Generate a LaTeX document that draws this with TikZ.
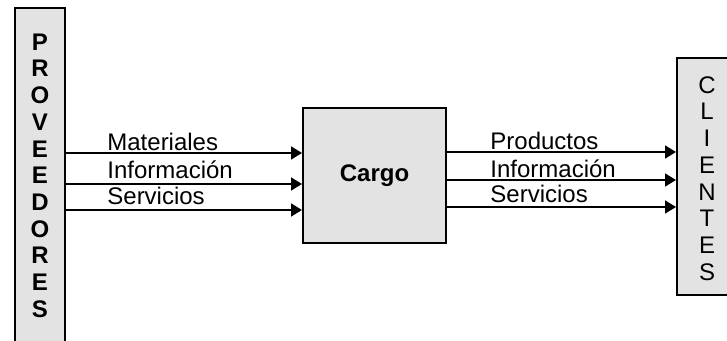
\documentclass[tikz,border=0pt]{standalone}
\usepackage{fontspec}
\setmainfont{Liberation Sans}
\usetikzlibrary{arrows.meta}

\begin{document}
\begin{tikzpicture}[
    x=0.5pt, y=-0.5pt,
    >={Triangle[length=5.5pt, width=6.5pt]},
    every node/.style={font=\fontsize{12}{14}\selectfont, inner sep=0pt},
    caja/.style={draw, line width=1pt, fill=gray!22},
    letraP/.style={font=\fontsize{12}{14}\selectfont\bfseries},
    letraC/.style={font=\fontsize{12}{14}\selectfont},
    flujo/.style={->, line width=0.8pt}
]

\clip (0,0) rectangle (727,341);
\fill[white] (0,0) rectangle (727,341);

% Boxes
\node[caja, minimum width=25pt, minimum height=172pt] (prov) at (40,180) {};
\node[caja, minimum width=71.5pt, minimum height=67.5pt] (cargo) at (374.5,175.5) {\bfseries Cargo};
\node[caja, minimum width=30pt, minimum height=118.5pt] (cli) at (707,176.5) {};

% Vertical letters
\foreach \l [count=\i] in {P,R,O,V,E,E,D,O,R,E,S}
    \node[letraP] (p\i) at (40, 42+26.7*\i-26.7) {\l};

\foreach \l [count=\i] in {C,L,I,E,N,T,E,S}
    \node[letraC] (c\i) at (707, 85+26.7*\i-26.7) {\l};

% Heights of the flows
\coordinate (e1) at (0,153);
\coordinate (e2) at (0,184);
\coordinate (e3) at (0,210);
\coordinate (s1) at (0,152);
\coordinate (s2) at (0,180);
\coordinate (s3) at (0,207);

% Flows
\foreach \i in {1,2,3} {
    \draw[flujo] (prov.east |- e\i) -- (cargo.west |- e\i);
    \draw[flujo] (cargo.east |- s\i) -- (cli.west |- s\i);
}

% Labels
\node[anchor=base west] (lmat) at (107,151) {Materiales};
\node[anchor=base west] (linf) at (107,179) {Información};
\node[anchor=base west] (lser) at (107,205) {Servicios};
\node[anchor=base west] (rpro) at (490,150) {Productos};
\node[anchor=base west] (rinf) at (490,178) {Información};
\node[anchor=base west] (rser) at (490,203) {Servicios};

\end{tikzpicture}
\end{document}
